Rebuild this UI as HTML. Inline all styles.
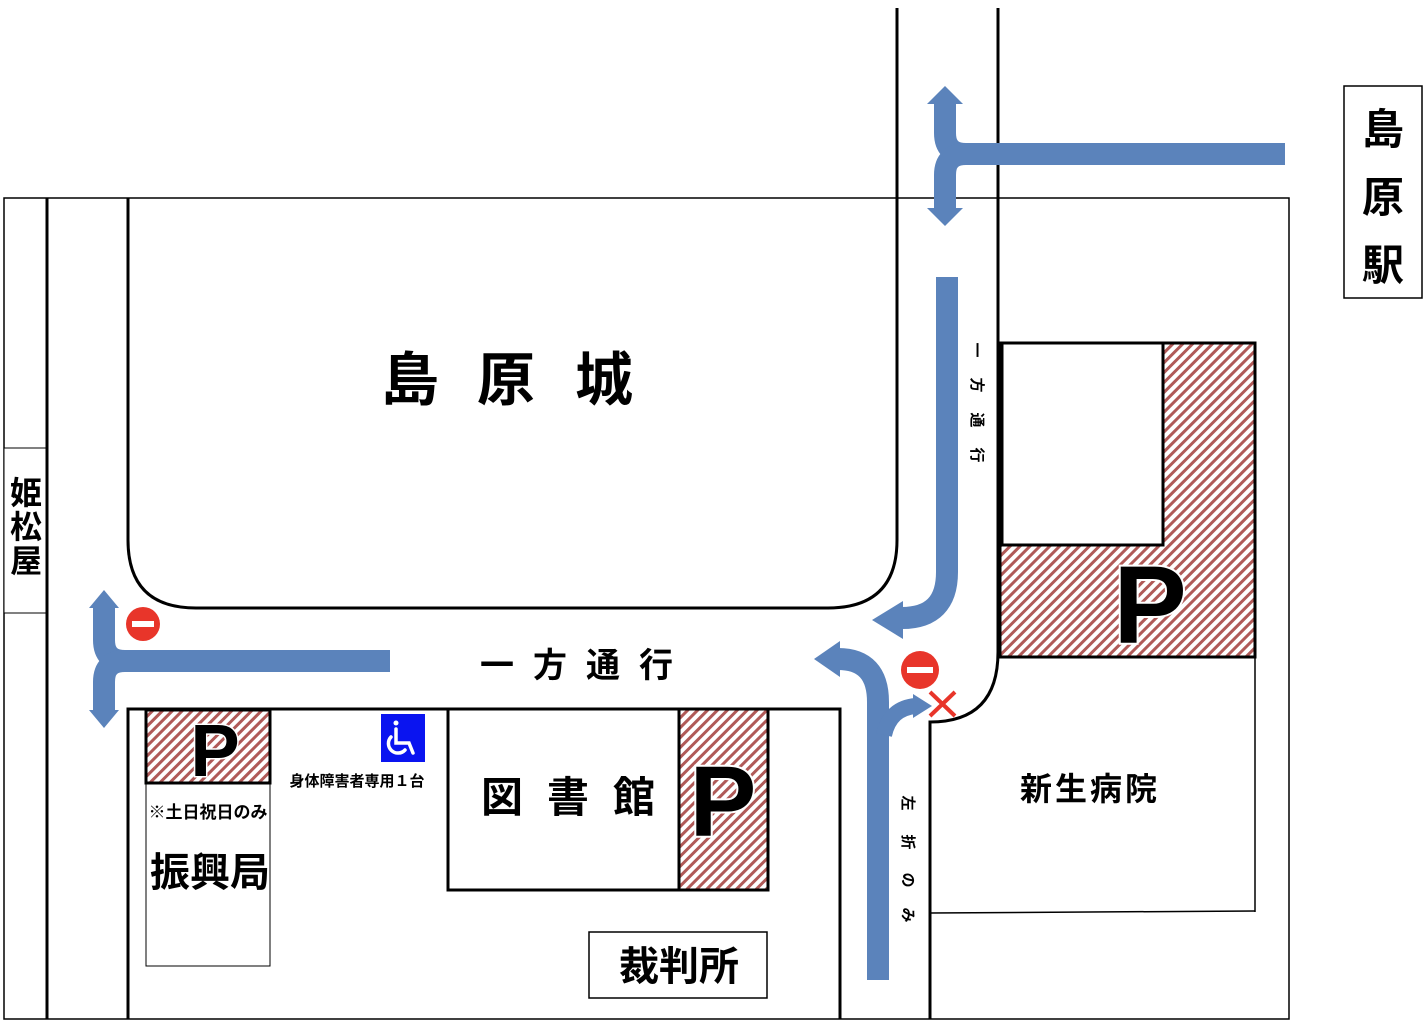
<!DOCTYPE html>
<html><head><meta charset="utf-8"><style>
html,body{margin:0;padding:0;background:#fff}
svg{display:block}
text{font-family:"Liberation Sans","Noto Sans CJK JP",sans-serif;font-weight:bold;fill:#000}
</style></head><body>
<svg width="1428" height="1024" viewBox="0 0 1428 1024" xmlns="http://www.w3.org/2000/svg">
<defs>
<pattern id="h" patternUnits="userSpaceOnUse" width="7" height="7" patternTransform="rotate(45)">
<rect width="7" height="7" fill="#fff"/><rect width="3" height="7" fill="#b05a58"/>
</pattern>
</defs>
<rect x="4" y="198" width="1285" height="821" fill="none" stroke="#000" stroke-width="1.5"/>
<rect x="4" y="448" width="43" height="165" fill="#fff" stroke="#000" stroke-width="1"/>
<line x1="47" y1="198" x2="47" y2="1019" stroke="#000" stroke-width="3"/>
<path d="M128 198 V540 Q128 608 196 608 H828 Q897 608 897 540 V8" fill="none" stroke="#000" stroke-width="3"/>
<path d="M998 8 V652 Q998 722 930 722 V1019" fill="none" stroke="#000" stroke-width="3"/>
<path d="M128 1019 V709 H840 V1019" fill="none" stroke="#000" stroke-width="3"/>
<rect x="1000" y="343" width="255" height="314" fill="url(#h)" stroke="#000" stroke-width="3"/>
<rect x="1002" y="343" width="161" height="202" fill="#fff" stroke="#000" stroke-width="3"/>
<line x1="1255" y1="657" x2="1255" y2="912" stroke="#000" stroke-width="1.5"/>
<line x1="930" y1="913" x2="1255" y2="911" stroke="#000" stroke-width="1.5"/>
<text x="1150" y="643" font-size="110" text-anchor="middle" stroke="#fff" stroke-width="4" paint-order="stroke" font-family="Liberation Sans,sans-serif">P</text>
<text x="1090" y="800" font-size="32" text-anchor="middle" letter-spacing="3">新生病院</text>
<rect x="448" y="709" width="320" height="181" fill="#fff" stroke="#000" stroke-width="3"/>
<rect x="679" y="709" width="89" height="181" fill="url(#h)" stroke="#000" stroke-width="3"/>
<text x="723" y="836" font-size="100" text-anchor="middle" stroke="#fff" stroke-width="4" paint-order="stroke">P</text>
<text x="580" y="812" font-size="42" text-anchor="middle" letter-spacing="24">図書館</text>
<rect x="146" y="710" width="124" height="73" fill="url(#h)" stroke="#000" stroke-width="3"/>
<text x="215" y="776" font-size="74" text-anchor="middle" stroke="#fff" stroke-width="3" paint-order="stroke">P</text>
<rect x="146" y="783" width="124" height="183" fill="none" stroke="#000" stroke-width="1"/>
<text x="208" y="818" font-size="17" text-anchor="middle">※土日祝日のみ</text>
<text x="210" y="886" font-size="40" text-anchor="middle">振興局</text>
<rect x="381" y="714" width="44" height="48" fill="#0a14f0"/>
<g fill="none" stroke="#fff" stroke-width="3.5" stroke-linecap="round">
<circle cx="396" cy="723" r="2.5" fill="#fff" stroke="none"/>
<path d="M396 729 V743 H409 L413 753"/>
<path d="M391 737 A9 9 0 1 0 405 750"/>
</g>
<text x="357" y="786" font-size="15" text-anchor="middle">身体障害者専用１台</text>
<rect x="589" y="932" width="178" height="66" fill="#fff" stroke="#000" stroke-width="1.5"/>
<text x="679" y="980" font-size="40" text-anchor="middle">裁判所</text>
<rect x="1344" y="86" width="78" height="212" fill="#fff" stroke="#000" stroke-width="1.5"/>
<text x="1383" y="144" font-size="42" text-anchor="middle">島</text>
<text x="1383" y="212" font-size="42" text-anchor="middle">原</text>
<text x="1383" y="280" font-size="42" text-anchor="middle">駅</text>
<text x="26" y="504" font-size="32" text-anchor="middle">姫</text>
<text x="26" y="538" font-size="32" text-anchor="middle">松</text>
<text x="26" y="572" font-size="32" text-anchor="middle">屋</text>
<text x="410" y="400" font-size="58" text-anchor="middle">島</text>
<text x="506" y="400" font-size="58" text-anchor="middle">原</text>
<text x="604" y="400" font-size="58" text-anchor="middle">城</text>
<text x="586" y="677" font-size="34" text-anchor="middle" letter-spacing="19">一方通行</text>
<g font-size="15">
<text transform="translate(977,350) rotate(90)" text-anchor="middle" dy="5">一</text>
<text transform="translate(977,385) rotate(90)" text-anchor="middle" dy="5">方</text>
<text transform="translate(977,420) rotate(90)" text-anchor="middle" dy="5">通</text>
<text transform="translate(977,455) rotate(90)" text-anchor="middle" dy="5">行</text>
<text transform="translate(908,803) rotate(90)" text-anchor="middle" dy="5">左</text>
<text transform="translate(908,842) rotate(90)" text-anchor="middle" dy="5">折</text>
<text transform="translate(908,880) rotate(90)" text-anchor="middle" dy="5">の</text>
<text transform="translate(908,915) rotate(90)" text-anchor="middle" dy="5">み</text>
</g>
<g fill="none" stroke="#5b83bb" stroke-width="22">
<path d="M1285 154 H966 Q945 154 945 133 V102"/>
<path d="M966 154 Q945 154 945 175 V210"/>
<path d="M947 277 V572 Q947 618 902 618"/>
<path d="M878 980 V702 Q878 659 838 659"/>
<path d="M884 735 Q890 708 916 706" stroke-width="16"/>
<path d="M390 661 H125 Q104 661 104 640 V606"/>
<path d="M125 661 Q104 661 104 682 V712"/>
</g>
<g fill="#5b83bb">
<polygon points="945,86 927,104 963,104"/>
<polygon points="945,226 927,208 963,208"/>
<polygon points="872,620 903,601 903,639"/>
<polygon points="814,659 840,641 840,677"/>
<polygon points="932,706 913,694 913,718"/>
<polygon points="104,590 89,608 119,608"/>
<polygon points="104,728 89,710 119,710"/>
</g>
<circle cx="143" cy="624" r="17" fill="#e8352a"/><rect x="132" y="621" width="22" height="6" fill="#fff"/>
<circle cx="920" cy="670" r="19" fill="#e8352a"/><rect x="907" y="667" width="26" height="6" fill="#fff"/>
<path d="M930 692 L955 716 M955 692 L930 716" stroke="#e8352a" stroke-width="4"/>
</svg>
</body></html>
